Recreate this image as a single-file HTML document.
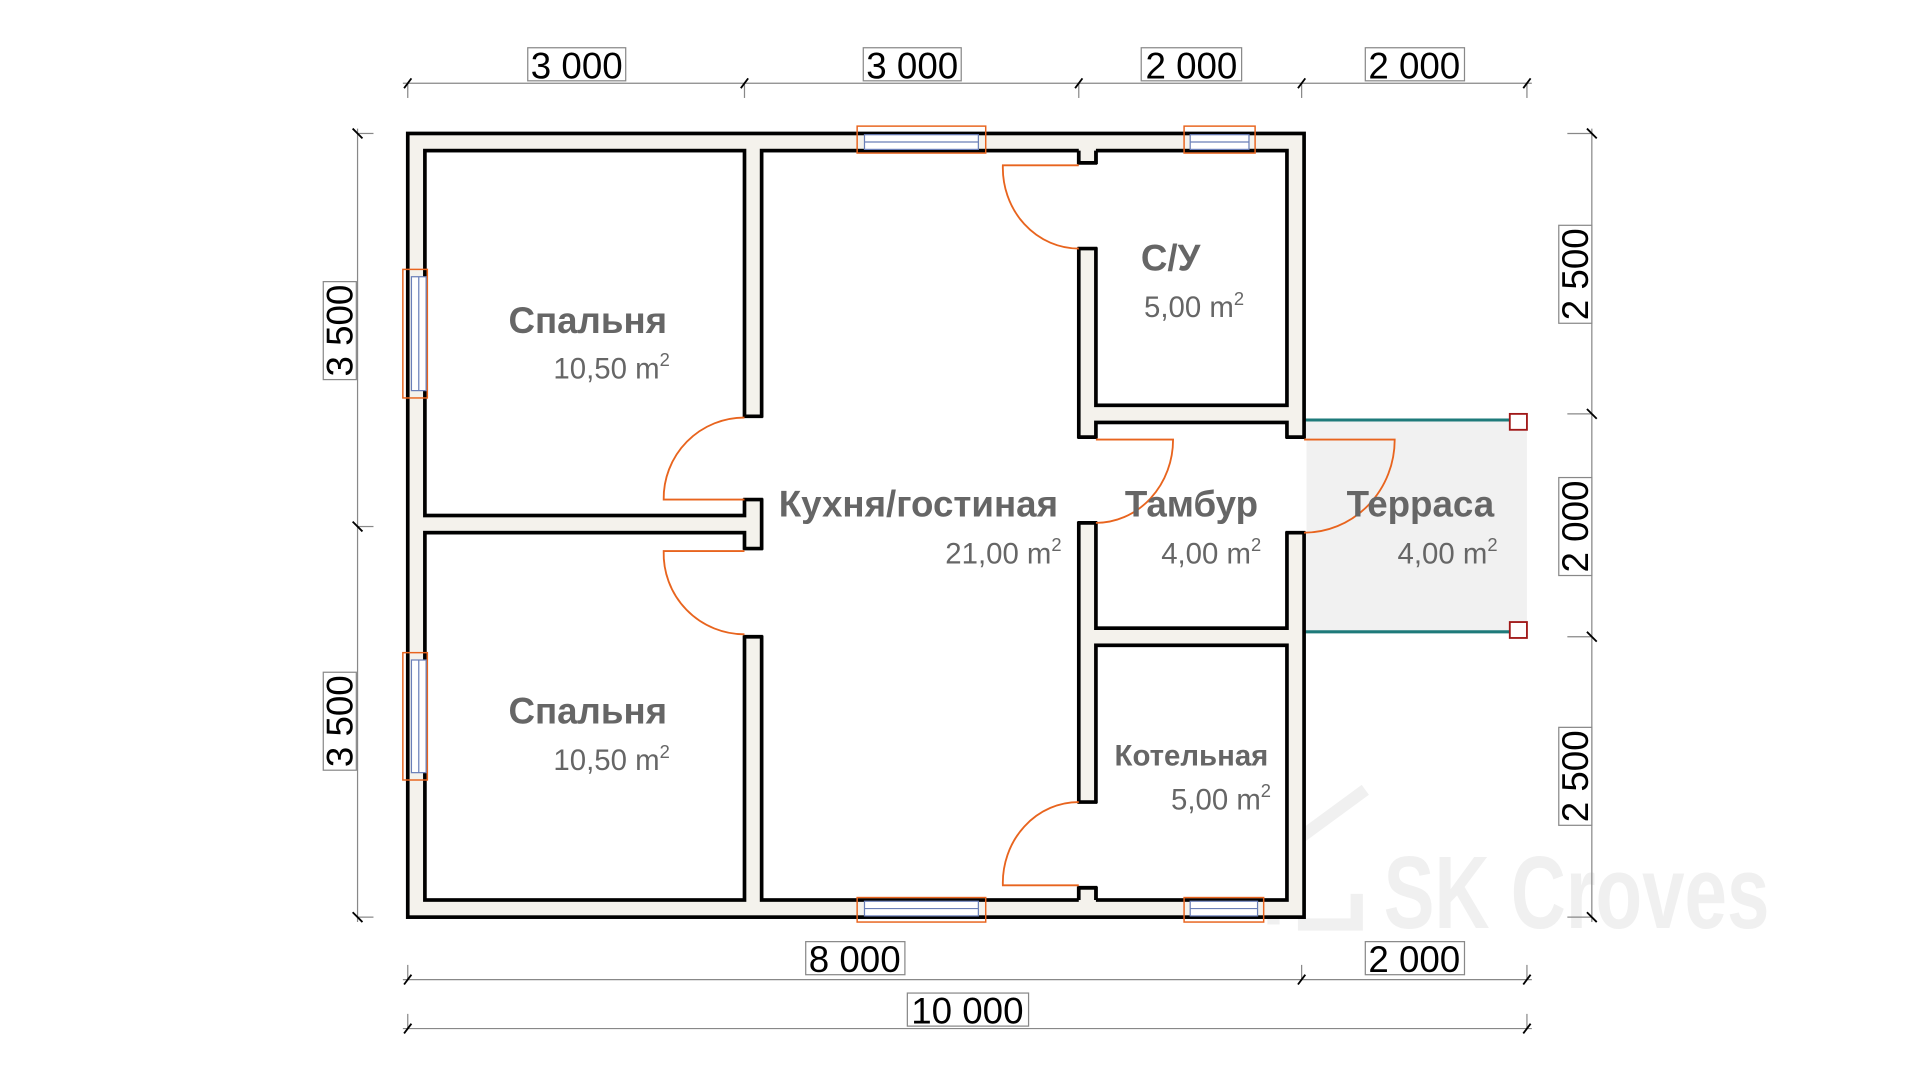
<!DOCTYPE html>
<html><head><meta charset="utf-8"><style>
html,body{margin:0;padding:0;background:#fff;}
svg{display:block;}
text{font-family:"Liberation Sans",sans-serif;}
</style></head><body>
<svg width="1920" height="1080" viewBox="0 0 1568 882" preserveAspectRatio="none" xmlns="http://www.w3.org/2000/svg">
<rect width="1568" height="882" fill="#fff"/>
<text x="1130" y="758" font-size="84" font-weight="bold" fill="#f0f0f0" textLength="315" lengthAdjust="spacingAndGlyphs">SK Croves</text>
<path d="M1040 755 L1040 700 L1115 645 M1060 755 L1108 755 L1108 730" stroke="#f0f0f0" stroke-width="10" fill="none"/>
<rect x="1065" y="343" width="182" height="173" fill="#f1f1f1"/>
<line x1="1065" y1="343" x2="1233" y2="343" stroke="#1e7a7a" stroke-width="2.5"/>
<line x1="1065" y1="516" x2="1233" y2="516" stroke="#1e7a7a" stroke-width="2.5"/>
<rect x="1233" y="338" width="14" height="13" fill="#fff" stroke="#a01818" stroke-width="1.5"/>
<rect x="1233" y="508" width="14" height="13" fill="#fff" stroke="#a01818" stroke-width="1.5"/>
<rect x="333" y="109" width="732" height="640" fill="#f4f2ec" stroke="#000" stroke-width="3"/>
<g fill="#fff" stroke="#000" stroke-width="3">
<rect x="347" y="123" width="261" height="298"/>
<rect x="347" y="435" width="261" height="300"/>
<rect x="622" y="123" width="259" height="612"/>
<rect x="895" y="123" width="156" height="208"/>
<rect x="895" y="345" width="156" height="168"/>
<rect x="895" y="527" width="156" height="208"/>
</g>
<rect x="881" y="121" width="14" height="12" fill="#f4f2ec"/>
<path d="M881 123 V133 H895 V123" fill="none" stroke="#000" stroke-width="3"/>
<rect x="881" y="725" width="14" height="12" fill="#f4f2ec"/>
<path d="M881 735 V725 H895 V735" fill="none" stroke="#000" stroke-width="3"/>
<g fill="#fff">
<rect x="606" y="341" width="18" height="66"/>
<rect x="606" y="449" width="18" height="70"/>
<rect x="879" y="134" width="18" height="68"/>
<rect x="879" y="358" width="18" height="68"/>
<rect x="879" y="656" width="18" height="68"/>
<rect x="1049" y="358" width="18" height="76"/>
</g>
<g stroke="#000" stroke-width="3">
<line x1="607" y1="340" x2="623" y2="340"/><line x1="607" y1="408" x2="623" y2="408"/>
<line x1="607" y1="448" x2="623" y2="448"/><line x1="607" y1="520" x2="623" y2="520"/>
<line x1="880" y1="133" x2="896" y2="133"/><line x1="880" y1="203" x2="896" y2="203"/>
<line x1="880" y1="357" x2="896" y2="357"/><line x1="880" y1="427" x2="896" y2="427"/>
<line x1="880" y1="655" x2="896" y2="655"/><line x1="880" y1="725" x2="896" y2="725"/>
<line x1="1050" y1="357" x2="1066" y2="357"/><line x1="1050" y1="435" x2="1066" y2="435"/>
</g>
<g fill="none" stroke="#e8641e" stroke-width="1.5">
<path d="M608 408 H542 A66 66 0 0 1 608 341"/>
<path d="M608 450 H542 A66 66 0 0 0 608 518"/>
<path d="M881 135 H819 A62 66 0 0 0 881 203"/>
<path d="M881 723 H819 A62 66 0 0 1 881 655"/>
<path d="M895 359 H958 A63 68 0 0 1 895 427"/>
<path d="M1065 359 H1139 A74 76 0 0 1 1065 435"/>
</g>
<g fill="none" stroke="#e8641e" stroke-width="1.2">
<rect x="700" y="103" width="105" height="22"/>
<rect x="967" y="103" width="58" height="22"/>
<rect x="700" y="733" width="105" height="20"/>
<rect x="967" y="733" width="65" height="20"/>
<rect x="329" y="220" width="20" height="105"/>
<rect x="329" y="533" width="20" height="104"/>
</g>
<g fill="#fff" stroke="#6a7fb8" stroke-width="1">
<rect x="706" y="110" width="93" height="12"/>
<rect x="972" y="110" width="48" height="12"/>
<rect x="706" y="736" width="93" height="12"/>
<rect x="972" y="736" width="55" height="12"/>
<rect x="336" y="226" width="12" height="93"/>
<rect x="336" y="539" width="12" height="92"/>
</g>
<g stroke="#6a7fb8" stroke-width="1">
<line x1="706" y1="116" x2="799" y2="116"/><line x1="972" y1="116" x2="1020" y2="116"/>
<line x1="706" y1="742" x2="799" y2="742"/><line x1="972" y1="742" x2="1027" y2="742"/>
<line x1="342" y1="226" x2="342" y2="319"/><line x1="342" y1="539" x2="342" y2="631"/>
</g>
<g fill="#666" font-weight="bold" font-size="30">
<text x="480" y="272" text-anchor="middle">Спальня</text>
<text x="480" y="591" text-anchor="middle">Спальня</text>
<text x="750" y="422" text-anchor="middle">Кухня/гостиная</text>
<text x="956" y="221" text-anchor="middle">С/У</text>
<text x="973" y="422" text-anchor="middle">Тамбур</text>
<text x="1160" y="422" text-anchor="middle">Терраса</text>
<text x="973" y="625" text-anchor="middle" font-size="24">Котельная</text>
</g>
<g fill="#666" font-size="24" text-anchor="end">
<text x="547" y="309">10,50 m<tspan font-size="15" dy="-10">2</tspan></text>
<text x="547" y="629">10,50 m<tspan font-size="15" dy="-10">2</tspan></text>
<text x="867" y="460">21,00 m<tspan font-size="15" dy="-10">2</tspan></text>
<text x="1016" y="259">5,00 m<tspan font-size="15" dy="-10">2</tspan></text>
<text x="1030" y="460">4,00 m<tspan font-size="15" dy="-10">2</tspan></text>
<text x="1223" y="460">4,00 m<tspan font-size="15" dy="-10">2</tspan></text>
<text x="1038" y="661">5,00 m<tspan font-size="15" dy="-10">2</tspan></text>
</g>
<g stroke="#888" stroke-width="1" fill="none">
<line x1="329" y1="68" x2="1251" y2="68"/>
<line x1="329" y1="800" x2="1251" y2="800"/>
<line x1="329" y1="840" x2="1251" y2="840"/>
<line x1="292" y1="105" x2="292" y2="753"/>
<line x1="1300" y1="105" x2="1300" y2="753"/>
<line x1="333" y1="68" x2="333" y2="80"/><line x1="608" y1="68" x2="608" y2="80"/><line x1="881" y1="68" x2="881" y2="80"/><line x1="1063" y1="68" x2="1063" y2="80"/><line x1="1247" y1="68" x2="1247" y2="80"/>
<line x1="333" y1="788" x2="333" y2="800"/><line x1="1063" y1="788" x2="1063" y2="800"/><line x1="1247" y1="788" x2="1247" y2="800"/>
<line x1="333" y1="828" x2="333" y2="840"/><line x1="1247" y1="828" x2="1247" y2="840"/>
<line x1="292" y1="109" x2="305" y2="109"/><line x1="292" y1="430" x2="305" y2="430"/><line x1="292" y1="749" x2="305" y2="749"/>
<line x1="1280" y1="109" x2="1300" y2="109"/><line x1="1280" y1="338" x2="1300" y2="338"/><line x1="1280" y1="520" x2="1300" y2="520"/><line x1="1280" y1="749" x2="1300" y2="749"/>
</g>
<g stroke="#000" stroke-width="1.5">
<path d="M330 72 L336 64 M605 72 L611 64 M878 72 L884 64 M1060 72 L1066 64 M1244 72 L1250 64"/>
<path d="M330 804 L336 796 M1060 804 L1066 796 M1244 804 L1250 796"/>
<path d="M330 844 L336 836 M1244 844 L1250 836"/>
<path d="M288 105 L296 113 M288 426 L296 434 M288 745 L296 753"/>
<path d="M1296 105 L1304 113 M1296 334 L1304 342 M1296 516 L1304 524 M1296 745 L1304 753"/>
</g>
<g fill="#fff" stroke="#888" stroke-width="1">
<rect x="431" y="39" width="80" height="27"/>
<rect x="705" y="39" width="80" height="27"/>
<rect x="932" y="39" width="82" height="27"/>
<rect x="1115" y="39" width="81" height="27"/>
<rect x="658" y="769" width="81" height="27"/>
<rect x="1115" y="769" width="81" height="27"/>
<rect x="741" y="811" width="99" height="27"/>
<rect x="264" y="230" width="27" height="80"/>
<rect x="264" y="549" width="27" height="80"/>
<rect x="1273" y="184" width="27" height="80"/>
<rect x="1273" y="390" width="27" height="80"/>
<rect x="1273" y="594" width="27" height="80"/>
</g>
<g fill="#000" font-size="30" text-anchor="middle">
<text x="471" y="64">3 000</text>
<text x="745" y="64">3 000</text>
<text x="973" y="64">2 000</text>
<text x="1155" y="64">2 000</text>
<text x="698" y="794">8 000</text>
<text x="1155" y="794">2 000</text>
<text x="790" y="836">10 000</text>
<text transform="translate(288,270) rotate(-90)">3 500</text>
<text transform="translate(288,589) rotate(-90)">3 500</text>
<text transform="translate(1297,224) rotate(-90)">2 500</text>
<text transform="translate(1297,430) rotate(-90)">2 000</text>
<text transform="translate(1297,634) rotate(-90)">2 500</text>
</g>
</svg>
</body></html>
